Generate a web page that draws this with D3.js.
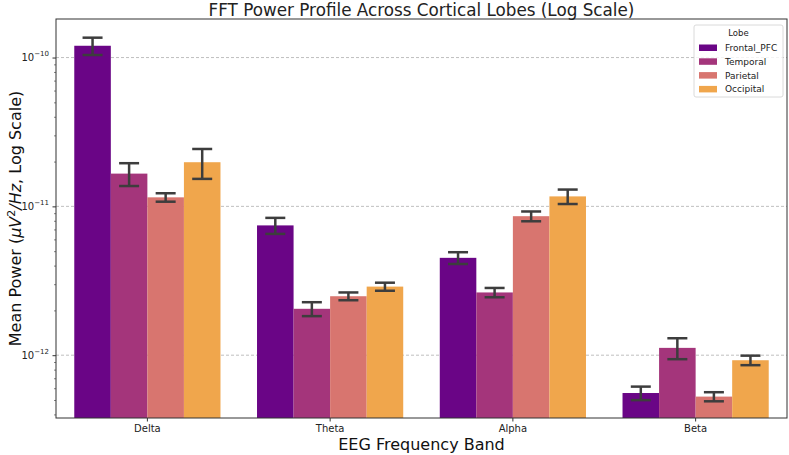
<!DOCTYPE html>
<html>
<head>
<meta charset="utf-8">
<script src="https://cdn.jsdelivr.net/npm/d3@7"></script>
<style>
    body { margin: 0; background: #fff; }
    text { font-family: "DejaVu Sans", sans-serif; }
</style>
</head>
<body>
<svg id="drawing_region"></svg>
<script>
// bands on the x axis, lobes as the series
const bands = ['Delta', 'Theta', 'Alpha', 'Beta'];
const lobes = ['Frontal_PFC', 'Temporal', 'Parietal', 'Occipital'];
const lobe_colors = ['#6a0586', '#a4357b', '#d8756f', '#f0a64c'];

// mean power per band, one array per lobe (uV^2/Hz)
const frontal_mean   = [1.20e-10, 7.45e-12, 4.51e-12, 5.57e-13];
const temporal_mean  = [1.66e-11, 2.05e-12, 2.64e-12, 1.12e-12];
const parietal_mean  = [1.15e-11, 2.49e-12, 8.59e-12, 5.27e-13];
const occipital_mean = [1.98e-11, 2.89e-12, 1.167e-11, 9.25e-13];

// standard error per band, one array per lobe
const frontal_sem   = [1.6e-11, 9.2e-13, 4.1e-13, 5.8e-14];
const temporal_sem  = [2.9e-12, 2.2e-13, 1.9e-13, 1.8e-13];
const parietal_sem  = [7.5e-13, 1.5e-13, 6.5e-13, 3.7e-14];
const occipital_sem = [4.5e-12, 1.8e-13, 1.3e-12, 6.8e-14];

const y_major_ticks = [1e-12, 1e-11, 1e-10];
const y_exponents = ['\u221212', '\u221211', '\u221210'];

const means = [frontal_mean, temporal_mean, parietal_mean, occipital_mean];
const sems = [frontal_sem, temporal_sem, parietal_sem, occipital_sem];

let data = [];
lobes.forEach( (lobe, i) => {
    bands.forEach( (band, j) => {
        data.push({ band: band, lobe: lobe, mean: means[i][j], sem: sems[i][j] });
    });
});

const config = {
    width: 789,
    height: 455,
    margin: {top:19, right:2, bottom:37, left:56}
};

const svg = d3.select('#drawing_region')
    .attr('width', config.width)
    .attr('height', config.height);

const inner_width = config.width - config.margin.left - config.margin.right;
const inner_height = config.height - config.margin.top - config.margin.bottom;

const chart = svg.append('g')
    .attr('transform', `translate(${config.margin.left}, ${config.margin.top})`);

const xscale = d3.scaleBand()
    .domain(bands)
    .range([0, inner_width])
    .padding(0);

const xsub = d3.scaleBand()
    .domain(lobes)
    .range([xscale.bandwidth()*0.1, xscale.bandwidth()*0.9])
    .padding(0);

const yscale = d3.scaleLog()
    .domain([Math.pow(10, -12.422), Math.pow(10, -9.741)])
    .range([inner_height, 0]);

const color = d3.scaleOrdinal()
    .domain(lobes)
    .range(lobe_colors);

// grid lines at the decades
chart.append('g')
    .selectAll('line')
    .data(y_major_ticks)
    .join('line')
    .attr('x1', 0)
    .attr('x2', inner_width)
    .attr('y1', d => yscale(d))
    .attr('y2', d => yscale(d))
    .attr('stroke', '#b0b0b0')
    .attr('stroke-width', 0.8)
    .attr('stroke-dasharray', '3,2');

// bars
chart.append('g')
    .selectAll('rect')
    .data(data)
    .join('rect')
    .attr('x', d => xscale(d.band) + xsub(d.lobe))
    .attr('width', xsub.bandwidth())
    .attr('y', d => yscale(d.mean))
    .attr('height', d => inner_height - yscale(d.mean))
    .attr('fill', d => color(d.lobe));

// error bars
const err = chart.append('g')
    .attr('stroke', '#3d3d3d')
    .attr('stroke-width', 2.5);

const cx = d => xscale(d.band) + xsub(d.lobe) + xsub.bandwidth()/2;

err.selectAll('line.stem')
    .data(data)
    .join('line')
    .attr('class', 'stem')
    .attr('x1', cx).attr('x2', cx)
    .attr('y1', d => yscale(d.mean - d.sem))
    .attr('y2', d => yscale(d.mean + d.sem));

err.selectAll('line.cap_hi')
    .data(data)
    .join('line')
    .attr('class', 'cap_hi')
    .attr('x1', d => cx(d) - 10).attr('x2', d => cx(d) + 10)
    .attr('y1', d => yscale(d.mean + d.sem))
    .attr('y2', d => yscale(d.mean + d.sem));

err.selectAll('line.cap_lo')
    .data(data)
    .join('line')
    .attr('class', 'cap_lo')
    .attr('x1', d => cx(d) - 10).attr('x2', d => cx(d) + 10)
    .attr('y1', d => yscale(d.mean - d.sem))
    .attr('y2', d => yscale(d.mean - d.sem));

// x axis
const xaxis = d3.axisBottom(xscale)
    .tickSizeOuter(0)
    .tickSize(3.5)
    .tickPadding(3);

const xaxis_group = chart.append('g')
    .attr('transform', `translate(0, ${inner_height})`)
    .call(xaxis);
xaxis_group.select('.domain').remove();
xaxis_group.selectAll('line').attr('stroke', '#333');
xaxis_group.selectAll('text')
    .attr('font-size', 10)
    .attr('fill', '#222')
    .style('font-family', '"DejaVu Sans", sans-serif');

// y axis: minor ticks, then major ticks with 10^n labels
const minor_ticks = yscale.ticks().filter( t => y_major_ticks.indexOf(t) < 0 );
const yminor = d3.axisLeft(yscale)
    .tickValues(minor_ticks)
    .tickSize(2)
    .tickFormat('')
    .tickSizeOuter(0);
const yminor_group = chart.append('g').call(yminor);
yminor_group.select('.domain').remove();
yminor_group.selectAll('line').attr('stroke', '#333').attr('stroke-width', 0.6);

const ymajor = d3.axisLeft(yscale)
    .tickValues(y_major_ticks)
    .tickSize(3.5)
    .tickFormat('')
    .tickSizeOuter(0);
const ymajor_group = chart.append('g').call(ymajor);
ymajor_group.select('.domain').remove();
ymajor_group.selectAll('line').attr('stroke', '#333');

const ylabels = chart.append('g')
    .selectAll('text')
    .data(y_major_ticks)
    .join('text')
    .attr('x', -7)
    .attr('y', d => yscale(d) + 3.5)
    .attr('text-anchor', 'end')
    .attr('font-size', 10)
    .attr('fill', '#222');
ylabels.append('tspan').text('10');
ylabels.append('tspan')
    .attr('dy', -5)
    .attr('font-size', 7)
    .text( (d, i) => y_exponents[i] );

// frame
chart.append('rect')
    .attr('width', inner_width)
    .attr('height', inner_height)
    .attr('fill', 'none')
    .attr('stroke', '#333')
    .attr('stroke-width', 1);

// title and axis labels
svg.append('text')
    .attr('x', config.margin.left + inner_width/2)
    .attr('y', 15.5)
    .attr('text-anchor', 'middle')
    .attr('font-size', 16.8)
    .attr('fill', '#222')
    .text('FFT Power Profile Across Cortical Lobes (Log Scale)');

svg.append('text')
    .attr('x', config.margin.left + inner_width/2)
    .attr('y', 450)
    .attr('text-anchor', 'middle')
    .attr('font-size', 16)
    .attr('fill', '#111')
    .text('EEG Frequency Band');

const ylab = svg.append('text')
    .attr('transform', `translate(21, ${config.margin.top + inner_height/2}) rotate(-90)`)
    .attr('text-anchor', 'middle')
    .attr('font-size', 16)
    .attr('fill', '#111');
ylab.append('tspan').text('Mean Power (');
ylab.append('tspan').attr('font-style', 'italic').text('\u03bcV');
ylab.append('tspan').attr('font-size', 11).attr('dy', -6).text('2');
ylab.append('tspan').attr('font-style', 'italic').attr('dy', 6).text('/Hz');
ylab.append('tspan').text(', Log Scale)');

// legend
const legend = svg.append('g')
    .attr('transform', 'translate(694, 25)');

legend.append('rect')
    .attr('width', 89)
    .attr('height', 72)
    .attr('rx', 2)
    .attr('fill', '#fff')
    .attr('fill-opacity', 0.8)
    .attr('stroke', '#d0d0d0')
    .attr('stroke-width', 0.8);

legend.append('text')
    .attr('x', 44.5)
    .attr('y', 11)
    .attr('text-anchor', 'middle')
    .attr('font-size', 8.5)
    .attr('fill', '#222')
    .text('Lobe');

const items = legend.selectAll('g.item')
    .data(lobes)
    .join('g')
    .attr('class', 'item')
    .attr('transform', (d, i) => `translate(5, ${19.5 + i*13.8})`);

items.append('rect')
    .attr('width', 18)
    .attr('height', 6.5)
    .attr('fill', d => color(d));

items.append('text')
    .attr('x', 26)
    .attr('y', 6.5)
    .attr('font-size', 9)
    .attr('fill', '#222')
    .text(d => d);
</script>
</body>
</html>
